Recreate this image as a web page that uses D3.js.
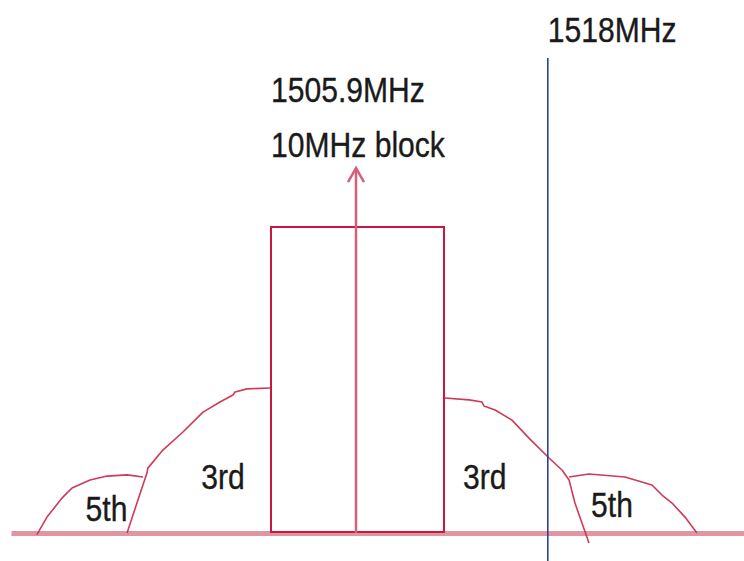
<!DOCTYPE html>
<html>
<head>
<meta charset="utf-8">
<script src="https://cdn.jsdelivr.net/npm/d3@7"></script>
<style>
  html, body { margin: 0; padding: 0; background: #fff; }
  svg { display: block; }
  text { font-family: Arial, "Liberation Sans", sans-serif; fill: #1a1a1a; stroke: #1a1a1a; stroke-width: 0.35; }
</style>
</head>
<body>
<svg id="chart" width="744" height="561"></svg>
<script>
// Frequency offsets (MHz) relative to the block centre, relative levels (block top = 100)
const blockCentreLabel = "1505.9MHz";
const blockLabel = "10MHz block";
const blockEdges = [-5, 5];
const blockLevel = 100;
const arrowLevel = 119.6;
const markerOffset = 11.0;          // where the 1518MHz marker is drawn
const markerLabel = "1518MHz";
const markerTopLevel = 155.2;
const baselineExtent = [-20.0, 22.4];

const lower3rd = [[-13.32,0],[-12.75,9.8],[-12.17,19.6],[-12.12,21.2],[-11.25,27.1],[-10.09,33.0],[-8.93,39.5],[-7.95,42.8],[-7.20,45.1],[-7.08,46.1],[-6.39,47.1],[-5.06,47.4]];
const lower5th = [[-18.53,-0.5],[-17.95,5.2],[-17.08,11.4],[-16.79,13.1],[-16.50,14.7],[-15.46,17.3],[-14.48,18.6],[-13.32,19.0],[-12.40,18.3]];
const upper3rd = [[5.06,44.1],[6.45,43.5],[7.20,42.8],[7.31,41.5],[7.95,40.2],[8.93,36.9],[9.91,31.0],[11.07,24.5],[11.82,20.6],[12.23,17.3],[12.57,9.8],[13.38,-3.3]];
const upper5th = [[12.23,18.3],[13.38,19.3],[15.46,18.3],[17.02,15.7],[17.60,12.4],[18.18,9.8],[18.93,5.2],[19.62,0]];

const productLabels = ["5th", "3rd", "3rd", "5th"];
const productLabelOffsets = [-15.72, -9.03, 6.1, 13.5];
const productLabelLevels = [3.9, 14.4, 14.4, 5.2];

const svg = d3.select("#chart");
const x = d3.scaleLinear().domain(blockEdges).range([271, 444]);
const y = d3.scaleLinear().domain([0, 100]).range([533, 227]);

const red = "#c8183f";
const curveRed = "#cf3a58";

// baseline
svg.append("line")
  .attr("x1", x(baselineExtent[0])).attr("x2", x(baselineExtent[1]))
  .attr("y1", y(0) + 0.5).attr("y2", y(0) + 0.5)
  .attr("stroke", "#e094a4").attr("stroke-width", 5);

// block
svg.append("rect")
  .attr("x", x(blockEdges[0])).attr("y", y(blockLevel))
  .attr("width", x(blockEdges[1]) - x(blockEdges[0]))
  .attr("height", y(0) - y(blockLevel) - 1)
  .attr("fill", "none").attr("stroke", red).attr("stroke-width", 2);

// intermod humps
const line = d3.line().x(d => x(d[0])).y(d => y(d[1]));
[lower5th, lower3rd, upper3rd, upper5th].forEach(pts => {
  svg.append("path").attr("d", line(pts))
    .attr("fill", "none").attr("stroke", curveRed)
    .attr("stroke-width", 1.6).attr("stroke-linejoin", "round");
});

// centre arrow
const ax = x(0) - 1.5;
svg.append("line")
  .attr("x1", ax).attr("x2", ax)
  .attr("y1", y(0)).attr("y2", y(arrowLevel) + 1)
  .attr("stroke", "#d5607c").attr("stroke-width", 2.5);
svg.append("path")
  .attr("d", `M${ax - 8},${y(arrowLevel) + 15} L${ax},${y(arrowLevel) + 1} L${ax + 8},${y(arrowLevel) + 15}`)
  .attr("fill", "none").attr("stroke", "#d5607c").attr("stroke-width", 2.5)
  .attr("stroke-linejoin", "miter");

// 1518MHz marker
svg.append("line")
  .attr("x1", x(markerOffset)).attr("x2", x(markerOffset))
  .attr("y1", y(markerTopLevel)).attr("y2", 561)
  .attr("stroke", "#2a4590").attr("stroke-width", 1.6);

function label(txt, px, py) {
  svg.append("text")
    .attr("transform", `translate(${px},${py}) scale(0.86,1)`)
    .attr("font-size", 35)
    .text(txt);
}

label(markerLabel, x(markerOffset), 42);
label(blockCentreLabel, x(blockEdges[0]), 102);
label(blockLabel, x(blockEdges[0]), 157);

productLabels.forEach((t, i) => {
  label(t, x(productLabelOffsets[i]), y(productLabelLevels[i]));
});
</script>
</body>
</html>
